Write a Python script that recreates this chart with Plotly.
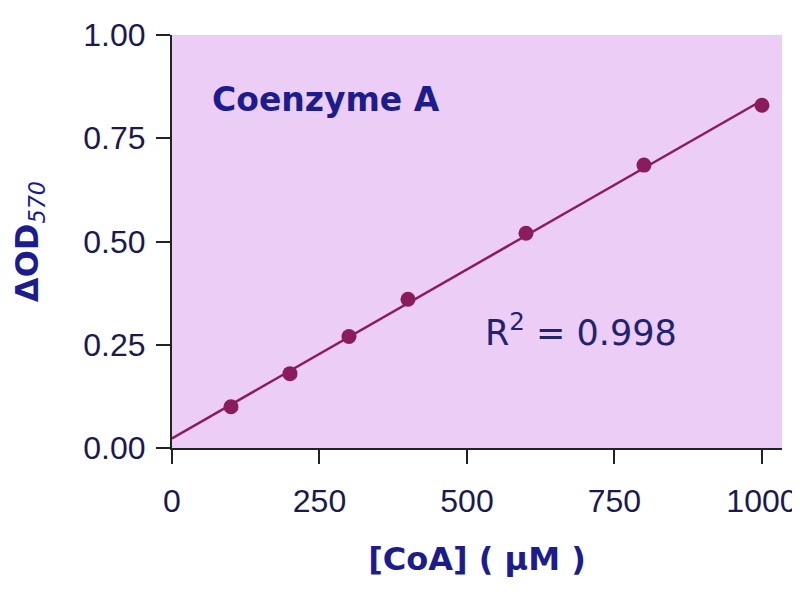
import numpy as np
import plotly.graph_objects as go

coa_um = [100, 200, 300, 400, 600, 800, 1000]
delta_od = [0.10, 0.18, 0.27, 0.36, 0.52, 0.685, 0.83]
x_ticks = [0, 250, 500, 750, 1000]
y_ticks = [0.0, 0.25, 0.5, 0.75, 1.0]
y_tick_labels = ["0.00", "0.25", "0.50", "0.75", "1.00"]

slope, intercept = np.polyfit(coa_um, delta_od, 1)
fit_x = [0, 1000]
fit_y = [intercept + slope * v for v in fit_x]

dot = "#8a1c5c"
navy = "#1c1c8c"
dark = "#1a1a50"
wide = "DejaVu Sans, Verdana"

fig = go.Figure()
fig.add_trace(go.Scatter(x=fit_x, y=fit_y, mode="lines",
                         line=dict(color=dot, width=2.5), showlegend=False))
fig.add_trace(go.Scatter(x=coa_um, y=delta_od, mode="markers",
                         marker=dict(color=dot, size=15), showlegend=False))

fig.add_annotation(x=64, y=0.843, xref="x", yref="y", xanchor="left", yanchor="middle",
                   text="<b>Coenzyme A</b>", showarrow=False,
                   font=dict(family=wide, size=33, color=navy))
fig.add_annotation(x=527, y=0.286, xref="x", yref="y", xanchor="left", yanchor="middle",
                   text="R<sup>2</sup> = 0.998", showarrow=False,
                   font=dict(family=wide, size=35, color="#22226e"))

fig.update_layout(
    width=800, height=600,
    margin=dict(l=164, r=26, t=27, b=160),
    paper_bgcolor="white",
    plot_bgcolor="#eccdf5",
    font=dict(family="Liberation Sans, Arial", color=dark),
    xaxis=dict(range=[0, 1034], tickvals=x_ticks, ticks="outside", ticklen=14,
               tickwidth=2, tickcolor="#222", showline=True, linecolor="#222", linewidth=2,
               showgrid=False, zeroline=False, tickfont=dict(size=32, color=dark),
               ticklabelstandoff=10, automargin=False,
               title=dict(text="<b>[CoA] ( µM )</b>", font=dict(family=wide, size=32, color=navy),
                          standoff=29)),
    yaxis=dict(range=[0, 1.0], tickvals=y_ticks, ticktext=y_tick_labels, ticks="outside",
               ticklen=14, tickwidth=2, tickcolor="#222", showline=True, linecolor="#222",
               linewidth=2, showgrid=False, zeroline=False, tickfont=dict(size=32, color=dark),
               ticklabelstandoff=4, automargin=False,
               title=dict(text="<b>ΔOD</b><sub><i>570</i></sub>",
                          font=dict(family=wide, size=32, color=navy), standoff=36)),
)

fig.write_html("out.html")
